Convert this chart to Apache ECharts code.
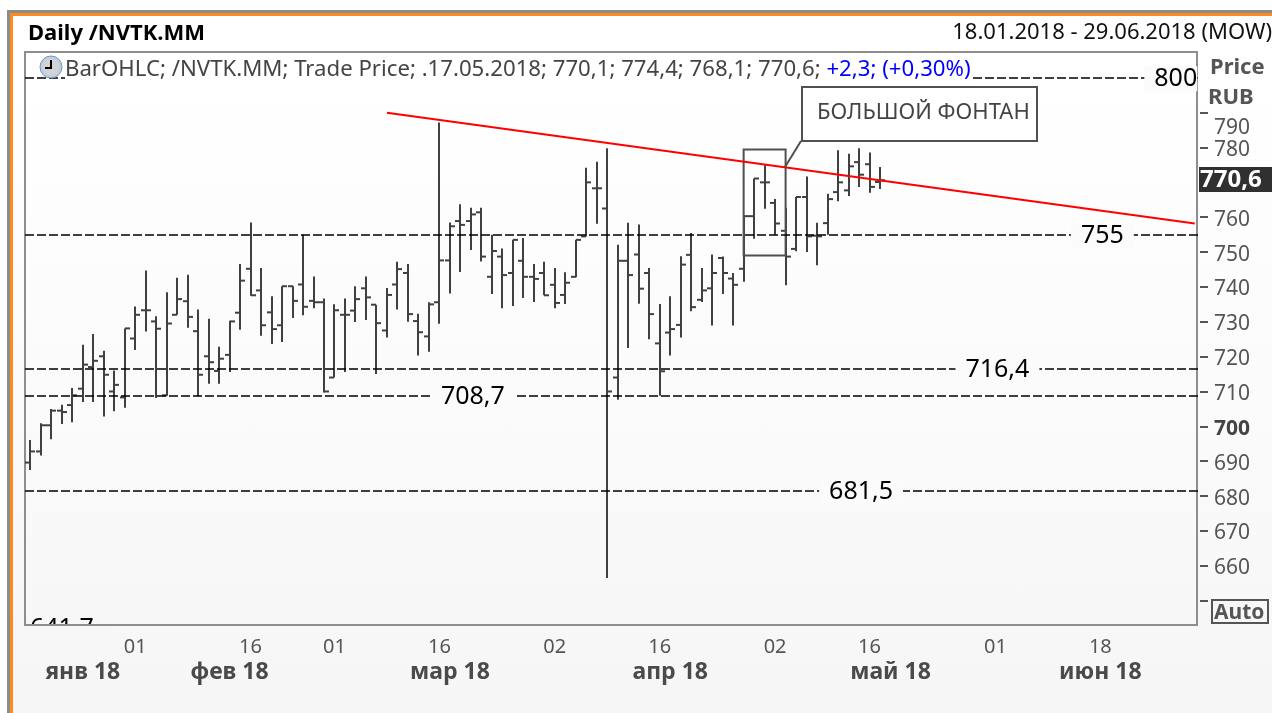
<!DOCTYPE HTML>
<html lang="ru">
  <head>
    <meta charset="utf-8" />
    <script src="https://cdn.jsdelivr.net/npm/echarts@6/dist/echarts.min.js"></script>
    <style>
      html, body {
        height: 100%;
        padding: 0;
        margin: 0;
        background: #fff;
      }
      #frame {
        position: absolute;
        left: 7px;
        top: 10px;
        width: 1265px;
        height: 703px;
        box-sizing: border-box;
        border-left: 3px solid #8c8c8c;
        border-top: 3px solid #8c8c8c;
      }
      #panel {
        width: 100%;
        height: 100%;
        box-sizing: border-box;
        border-left: 3px solid #ff8a1e;
        border-top: 3px solid #ff8a1e;
        background: linear-gradient(#ffffff 0%, #ffffff 8%, #fafafa 60%, #f6f6f6 100%);
      }
      #chart {
        position: absolute;
        left: 0;
        top: 0;
        width: 1272px;
        height: 713px;
      }
    </style>
  </head>
  <body>
    <div id="frame"><div id="panel"></div></div>
    <div id="chart"></div>
    <script>
      // trading days, the last 30 are empty room on the right of the chart
      var dates = [
        '2018-01-18','2018-01-19','2018-01-22','2018-01-23','2018-01-24','2018-01-25','2018-01-26','2018-01-29','2018-01-30','2018-01-31',
        '2018-02-01','2018-02-02','2018-02-05','2018-02-06','2018-02-07','2018-02-08','2018-02-09','2018-02-12','2018-02-13','2018-02-14',
        '2018-02-15','2018-02-16','2018-02-19','2018-02-20','2018-02-21','2018-02-22','2018-02-26','2018-02-27','2018-02-28','2018-03-01',
        '2018-03-02','2018-03-05','2018-03-06','2018-03-07','2018-03-09','2018-03-12','2018-03-13','2018-03-14','2018-03-15','2018-03-16',
        '2018-03-19','2018-03-20','2018-03-21','2018-03-22','2018-03-23','2018-03-26','2018-03-27','2018-03-28','2018-03-29','2018-03-30',
        '2018-04-02','2018-04-03','2018-04-04','2018-04-05','2018-04-06','2018-04-09','2018-04-10','2018-04-11','2018-04-12','2018-04-13',
        '2018-04-16','2018-04-17','2018-04-18','2018-04-19','2018-04-20','2018-04-23','2018-04-24','2018-04-25','2018-04-26','2018-04-27',
        '2018-04-28','2018-05-02','2018-05-03','2018-05-04','2018-05-07','2018-05-08','2018-05-10','2018-05-11','2018-05-14','2018-05-15',
        '2018-05-16','2018-05-17','2018-05-18','2018-05-21','2018-05-22','2018-05-23','2018-05-24','2018-05-25','2018-05-28','2018-05-29',
        '2018-05-30','2018-05-31','2018-06-01','2018-06-04','2018-06-05','2018-06-06','2018-06-07','2018-06-08','2018-06-11','2018-06-13',
        '2018-06-14','2018-06-15','2018-06-18','2018-06-19','2018-06-20','2018-06-21','2018-06-22','2018-06-25','2018-06-26','2018-06-27',
        '2018-06-28','2018-06-29'
      ];
      var opens = [
        689.6,692.8,700.3,704.5,706.1,710.8,717.0,720.1,710.0,708.3,725.2,733.3,730.1,708.9,732.0,735.9,727.3,720.1,715.9,720.5,
        732.6,745.2,739.0,732.7,729.0,740.2,740.7,736.0,735.6,714.0,732.0,733.2,739.6,734.9,727.5,740.7,744.0,730.2,725.8,735.6,
        747.6,758.9,758.9,761.4,742.9,748.7,744.0,747.5,742.9,744.0,740.6,737.7,742.9,754.5,768.3,762.5,714.0,747.5,749.3,744.0,
        723.8,726.9,729.1,749.2,736.3,739.6,748.3,742.4,745.2,760.3,770.0,764.1,756.1,750.9,765.8,754.7,758.3,767.2,767.7,775.8,
        775.2,770.1
      ];
      var highs = [
        696.1,700.9,705.0,706.2,711.0,723.4,726.5,721.7,716.0,728.1,734.4,744.7,731.6,738.5,742.6,743.5,733.5,730.9,722.8,730.3,
        746.6,758.5,745.4,737.3,740.2,740.2,755.0,743.0,736.7,735.0,736.7,740.2,743.0,734.9,739.7,747.2,746.6,732.3,735.6,787.2,
        758.5,763.7,762.7,762.7,755.0,751.0,753.5,754.0,746.6,747.2,745.4,744.2,753.5,774.2,775.9,779.8,752.1,758.4,757.9,745.4,
        735.1,737.3,748.8,755.5,745.4,749.3,748.7,744.0,760.3,771.1,774.9,765.2,762.7,765.8,771.7,758.4,766.7,779.2,778.2,779.8,
        778.6,774.4
      ];
      var lows = [
        687.5,691.6,696.3,700.7,701.2,707.0,707.0,702.8,704.3,705.3,721.9,727.2,708.1,708.8,732.0,728.3,708.6,712.2,712.2,715.6,
        727.7,737.5,726.0,723.6,724.2,731.1,731.9,733.9,709.7,714.0,715.6,729.9,730.5,715.0,725.5,733.5,730.0,720.3,721.4,729.4,
        738.1,744.3,750.6,747.3,738.0,733.9,734.5,736.8,735.7,737.6,733.9,735.1,742.8,754.5,758.1,656.5,707.6,722.5,735.2,725.0,
        708.8,720.3,725.5,733.0,735.7,728.9,738.0,728.9,741.5,753.8,762.4,755.0,740.5,750.2,750.0,746.2,755.0,764.6,766.1,768.7,
        767.0,768.1
      ];
      var closes = [
        692.8,700.3,704.5,704.1,708.9,717.7,718.8,714.8,711.9,728.1,732.0,733.3,728.0,729.5,736.5,731.4,714.8,718.4,719.4,730.1,
        741.8,737.6,729.0,727.9,740.2,736.0,734.3,735.6,710.0,733.3,732.0,736.5,737.0,729.6,737.7,745.1,732.2,727.0,735.0,747.6,
        757.4,757.8,760.8,748.7,750.3,743.4,753.5,742.9,742.3,737.6,735.4,741.2,753.5,770.0,768.3,710.0,747.5,743.4,739.5,732.2,
        715.8,727.9,746.4,734.2,739.0,744.0,744.0,740.6,760.3,771.1,770.0,758.2,748.7,765.8,754.5,754.5,765.2,770.0,774.6,772.2,
        768.7,770.6
      ];

      var yTicks = [650,660,670,680,690,700,710,720,730,740,750,760,770,780,790];
      var yLabels = [660,670,680,690,700,710,720,730,740,750,760,780,790];
      var dayTicks = ['2018-02-01','2018-02-16','2018-03-01','2018-03-16','2018-04-02','2018-04-16','2018-05-02','2018-05-16','2018-06-01','2018-06-18'];
      var monthStarts = ['2018-02-01','2018-03-01','2018-04-02','2018-05-02','2018-06-01'];
      var monthLabelDates = ['2018-01-25','2018-02-14','2018-03-19','2018-04-17','2018-05-18','2018-06-18'];
      var monthLabels = ['янв 18','фев 18','мар 18','апр 18','май 18','июн 18'];

      // horizontal levels and where their labels sit
      var levels = [800,755,716.4,708.7,681.5];
      var levelTexts = ['800','755','716,4','708,7','681,5'];
      var levelTextDates = ['2018-06-27','2018-06-18','2018-06-01','2018-03-21','2018-05-15'];

      // red trend line and the boxed range, as [slot, price]
      var trendLine = [[33.7, 790.0], [111.2, 758.2]];
      var boxRange = [[68, 779.4], [71.9, 749.0]];

      var fontName = '"Noto Sans", sans-serif';
      var barColor = '#404040';
      var axisColor = '#555555';

      var bars = [];
      for (var i = 0; i < closes.length; i++) {
        bars.push([i, opens[i], highs[i], lows[i], closes[i]]);
      }

      function renderBar(params, api) {
        var x = api.value(0);
        var open = api.coord([x, api.value(1)]);
        var high = api.coord([x, api.value(2)]);
        var low = api.coord([x, api.value(3)]);
        var close = api.coord([x, api.value(4)]);
        var style = {stroke: barColor, lineWidth: 2, fill: null};
        var px = Math.round(high[0]);
        return {
          type: 'group',
          children: [
            {type: 'line', shape: {x1: px, y1: high[1], x2: px, y2: low[1]}, style: style},
            {type: 'line', shape: {x1: px - 5, y1: open[1], x2: px, y2: open[1]}, style: style},
            {type: 'line', shape: {x1: px, y1: close[1], x2: px + 5, y2: close[1]}, style: style}
          ]
        };
      }

      function renderTrend(params, api) {
        var a = api.coord(trendLine[0]);
        var b = api.coord(trendLine[1]);
        return {
          type: 'line',
          shape: {x1: a[0], y1: a[1], x2: b[0], y2: b[1]},
          style: {stroke: '#ff0000', lineWidth: 2, fill: null}
        };
      }

      function renderBox(params, api) {
        var a = api.coord(boxRange[0]);
        var b = api.coord(boxRange[1]);
        return {
          type: 'rect',
          shape: {x: a[0], y: a[1], width: b[0] - a[0], height: b[1] - a[1]},
          style: {stroke: '#505050', lineWidth: 2, fill: null}
        };
      }

      var option = {
        animation: false,
        textStyle: {fontFamily: fontName},
        // the grid runs 3px past the frame, the price ticks start there
        grid: {
          left: 25,
          top: 52,
          width: 1175,
          height: 573,
          show: false
        },
        xAxis: [{
          type: 'category',
          data: dates,
          position: 'bottom',
          offset: 3,
          axisLine: {show: false},
          axisTick: {
            alignWithLabel: true,
            length: 6,
            lineStyle: {color: '#444', width: 1},
            interval: function (idx, v) { return dayTicks.indexOf(v) >= 0; }
          },
          axisLabel: {
            color: axisColor,
            fontSize: 20,
            margin: 9,
            interval: function (idx, v) { return dayTicks.indexOf(v) >= 0; },
            formatter: function (v) { return v.slice(8); }
          },
          splitLine: {show: false}
        }, {
          type: 'category',
          data: dates,
          position: 'bottom',
          offset: 35,
          axisLine: {show: false},
          axisTick: {
            alignWithLabel: true,
            length: 26,
            lineStyle: {color: '#444', width: 2},
            interval: function (idx, v) { return monthStarts.indexOf(v) >= 0; }
          },
          axisLabel: {
            color: '#4a4a4a',
            fontSize: 23,
            fontWeight: 'bold',
            margin: 1,
            interval: function (idx, v) { return monthLabelDates.indexOf(v) >= 0; },
            formatter: function (v) { return monthLabels[monthLabelDates.indexOf(v)]; }
          },
          splitLine: {show: false}
        }],
        yAxis: {
          type: 'value',
          position: 'right',
          min: 643,
          max: 807.4,
          axisLine: {show: false},
          axisTick: {
            show: true,
            length: 8,
            customValues: yTicks,
            lineStyle: {color: '#555', width: 2}
          },
          axisLabel: {
            color: axisColor,
            fontSize: 21,
            margin: 14,
            customValues: yLabels,
            formatter: function (v) {
              if (v === 700) return '{major|700}';
              if (v === 790) return '{top|790}';
              return '{plain|' + v + '}';
            },
            rich: {
              plain: {fontSize: 21, color: axisColor, padding: [5, 0, 0, 0]},
              major: {fontSize: 21, fontWeight: 'bold', color: '#444', padding: [5, 0, 0, 0]},
              top: {fontSize: 21, color: axisColor, padding: [30, 0, 0, 0]}
            }
          },
          splitLine: {show: false}
        },
        graphic: [
          // plot frame
          {type: 'rect', z: 1, shape: {x: 25, y: 52, width: 1172, height: 573}, style: {fill: 'transparent', stroke: '#8e8e8e', lineWidth: 2}},
          {type: 'text', z: 100, left: 28, top: 23, style: {text: 'Daily /NVTK.MM', font: 'bold 22px ' + fontName, fill: '#000'}},
          {type: 'text', z: 100, right: 0, top: 22, style: {text: '18.01.2018 - 29.06.2018 (MOW)', font: '22px ' + fontName, fill: '#111'}},
          {
            type: 'text', z: 100, left: 65, top: 59,
            style: {
              text: 'BarOHLC; /NVTK.MM; Trade Price; .17.05.2018; 770,1; 774,4; 768,1; 770,6; {blue|+2,3; (+0,30%)}',
              font: '22.2px ' + fontName,
              fill: '#444',
              backgroundColor: '#fff',
              rich: {blue: {fill: '#0000ff', font: '22.2px ' + fontName}}
            }
          },
          // clock icon in front of the legend text
          {type: 'circle', z: 101, shape: {cx: 51, cy: 67, r: 11}, style: {fill: '#b9d2ea', stroke: '#7d93aa', lineWidth: 1}},
          {type: 'circle', z: 101, shape: {cx: 51, cy: 67, r: 8}, style: {fill: '#d4d4d4'}},
          {type: 'polyline', z: 102, shape: {points: [[51, 60], [51, 68], [45, 68]]}, style: {stroke: '#000', lineWidth: 2, fill: null}},
          // callout text box
          {type: 'line', z: 99, shape: {x1: 801, y1: 141, x2: 785, y2: 167}, style: {stroke: '#505050', lineWidth: 2}},
          {type: 'rect', z: 99, shape: {x: 802, y: 87, width: 235, height: 54}, style: {fill: '#fff', stroke: '#505050', lineWidth: 2}},
          {type: 'text', z: 100, left: 817, top: 102, style: {text: 'БОЛЬШОЙ ФОНТАН', font: '22px ' + fontName, fill: '#444'}},
          // axis title and current price
          {type: 'text', z: 100, left: 1210, top: 57, style: {text: 'Price', font: 'bold 22px ' + fontName, fill: '#555'}},
          {type: 'text', z: 100, left: 1208, top: 87, style: {text: 'RUB', font: 'bold 22px ' + fontName, fill: '#555'}},
          {type: 'rect', z: 100, shape: {x: 1199, y: 167, width: 73, height: 25}, style: {fill: '#303030'}},
          {type: 'text', z: 101, left: 1200, top: 168, style: {text: '770,6', font: 'bold 24px ' + fontName, fill: '#fff'}},
          {type: 'rect', z: 100, shape: {x: 1212, y: 600, width: 56, height: 23}, style: {fill: 'transparent', stroke: '#555', lineWidth: 2}},
          {type: 'text', z: 101, left: 1214, top: 603, style: {text: 'Auto', font: 'bold 21px ' + fontName, fill: '#555'}},
          // level text cut off by the bottom edge of the plot
          {type: 'text', z: 0, left: 30, top: 616, style: {text: '641,7', font: '25px ' + fontName, fill: '#000'}},
          {type: 'rect', z: 0, shape: {x: 27, y: 626, width: 90, height: 18}, style: {fill: '#f7f7f7'}}
        ],
        series: [{
          name: 'NVTK',
          type: 'custom',
          renderItem: renderBar,
          encode: {x: 0, y: [1, 2, 3, 4]},
          data: bars,
          z: 3,
          markLine: {
            silent: true,
            symbol: 'none',
            animation: false,
            label: {show: false},
            lineStyle: {color: '#000', type: [9, 3], width: 1.5},
            data: levels.map(function (v) { return {yAxis: v}; })
          },
          markPoint: {
            silent: true,
            symbol: 'circle',
            symbolSize: 0,
            animation: false,
            label: {
              show: true,
              position: 'inside',
              formatter: '{b}',
              fontFamily: fontName,
              fontSize: 25,
              color: '#000',
              backgroundColor: '#fbfbfb',
              padding: [0, 10],
              offset: [2, 1]
            },
            data: levels.map(function (v, k) {
              var item = {name: levelTexts[k], coord: [levelTextDates[k], v]};
              // the 800 text touches the frame, no padding on that side
              if (k === 0) item.label = {padding: [0, 0, 0, 10], offset: [-3, 1]};
              return item;
            })
          }
        }, {
          type: 'custom',
          renderItem: renderTrend,
          data: [[0, 700]],
          encode: {x: 0, y: 1},
          clip: false,
          z: 5
        }, {
          type: 'custom',
          renderItem: renderBox,
          data: [[0, 700]],
          encode: {x: 0, y: 1},
          clip: false,
          z: 4
        }]
      };

      var myChart = echarts.init(document.getElementById('chart'));
      myChart.setOption(option);
    </script>
  </body>
</html>
